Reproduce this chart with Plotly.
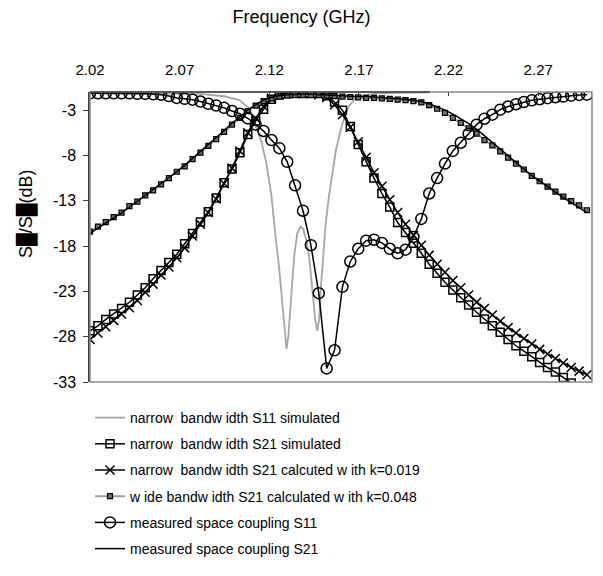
import plotly.graph_objects as go

# ---------------- data ----------------
freq_ghz = [2.0200, 2.0244, 2.0288, 2.0332, 2.0376, 2.0420, 2.0464, 2.0508, 2.0552, 2.0596,
            2.0640, 2.0684, 2.0728, 2.0772, 2.0816, 2.0860, 2.0904, 2.0948, 2.0992, 2.1036,
            2.1080, 2.1124, 2.1168, 2.1212, 2.1256, 2.1300, 2.1344, 2.1388, 2.1432, 2.1476,
            2.1520, 2.1564, 2.1608, 2.1652, 2.1696, 2.1740, 2.1784, 2.1828, 2.1872, 2.1916,
            2.1960, 2.2004, 2.2048, 2.2092, 2.2136, 2.2180, 2.2224, 2.2268, 2.2312, 2.2356,
            2.2400, 2.2444, 2.2488, 2.2532, 2.2576, 2.2620, 2.2664, 2.2708, 2.2752, 2.2796,
            2.2840, 2.2884, 2.2928, 2.2972]

narrow_s21_sim = [-27.35, -26.8, -26.1, -25.5, -24.9, -24.2, -23.4, -22.6, -21.6, -20.7,
                  -19.8, -18.9, -17.75, -16.6, -15.35, -14.2, -12.7, -11.0, -9.5, -7.7,
                  -5.7, -4.2, -2.9, -1.8, -1.3, -1.05, -1.1, -1.15, -1.1, -1.1,
                  -1.4, -2.1, -3.0, -4.8, -6.8, -8.7, -10.5, -12.2, -13.7, -15.4,
                  -16.5, -17.7, -18.8, -20.0, -21.0, -22.0, -22.85, -23.7, -24.5, -25.3,
                  -26.05, -26.8, -27.5, -28.3, -29.0, -29.6, -30.2, -30.85, -31.4, -31.9,
                  -32.5, -33.1, -33.7, -34.3]

narrow_s21_calc = [-28.3, -27.6, -26.9, -26.2, -25.5, -24.8, -24.0, -23.1, -22.2, -21.2,
                   -20.3, -19.3, -18.2, -16.9, -15.6, -14.3, -12.8, -11.1, -9.4, -7.5,
                   -5.5, -3.9, -2.6, -1.7, -1.3, -1.2, -1.2, -1.2, -1.2, -1.3,
                   -1.6, -2.4, -3.5, -4.9, -6.5, -8.2, -9.9, -11.4, -12.9, -14.3,
                   -15.6, -16.8, -17.9, -19.0, -20.0, -20.9, -21.8, -22.6, -23.4, -24.2,
                   -24.9, -25.6, -26.3, -27.0, -27.6, -28.2, -28.8, -29.4, -29.9, -30.4,
                   -30.9, -31.4, -31.8, -32.2]

wide_s21_calc = [-16.4, -15.85, -15.35, -14.8, -14.3, -13.6, -13.1, -12.4, -11.85, -11.2,
                 -10.5, -9.8, -9.2, -8.4, -7.7, -6.95, -6.2, -5.4, -4.6, -3.85,
                 -3.1, -2.5, -2.0, -1.7, -1.5, -1.4, -1.35, -1.35, -1.35, -1.35,
                 -1.4, -1.45, -1.5, -1.55, -1.6, -1.65, -1.65, -1.7, -1.75, -1.85,
                 -1.9, -2.0, -2.15, -2.45, -2.85, -3.3, -3.85, -4.4, -5.0, -5.6,
                 -6.3, -6.9, -7.55, -8.25, -8.9, -9.55, -10.25, -10.85, -11.45, -12.0,
                 -12.55, -13.05, -13.5, -14.05]

measured_s11 = [-1.15, -1.15, -1.15, -1.15, -1.15, -1.15, -1.2, -1.2, -1.25, -1.3,
                -1.45, -1.65, -1.75, -1.85, -2.05, -2.3, -2.5, -2.75, -3.1, -3.4,
                -3.9, -4.6, -5.3, -6.3, -7.2, -8.7, -11.3, -14.1, -17.9, -23.2,
                -31.5, -29.5, -22.5, -19.7, -18.3, -17.4, -17.3, -17.65, -18.3, -18.8,
                -18.4, -17.0, -15.0, -12.2, -10.5, -8.9, -7.5, -6.6, -5.6, -4.6,
                -3.95, -3.5, -2.95, -2.6, -2.35, -2.1, -1.92, -1.8, -1.68, -1.58,
                -1.5, -1.4, -1.32, -1.29]

measured_s21 = [-16.6, -16.0, -15.45, -14.9, -14.35, -13.7, -13.1, -12.45, -11.85, -11.2,
                -10.5, -9.8, -9.1, -8.35, -7.6, -6.85, -6.05, -5.25, -4.45, -3.7,
                -3.0, -2.4, -1.9, -1.6, -1.4, -1.3, -1.25, -1.25, -1.25, -1.3,
                -1.35, -1.4, -1.45, -1.5, -1.5, -1.5, -1.55, -1.6, -1.65, -1.7,
                -1.8, -1.9, -2.05, -2.3, -2.65, -3.0, -3.45, -3.95, -4.5, -5.1,
                -5.85, -6.6, -7.35, -8.1, -8.8, -9.5, -10.2, -10.85, -11.45, -12.05,
                -12.65, -13.2, -13.75, -14.3]

s11_sim_freq = [2.0200, 2.0589, 2.0811, 2.0950, 2.1033, 2.1089, 2.1126, 2.1156, 2.1183, 2.1211,
                2.1237, 2.1256, 2.1274, 2.1289, 2.1296, 2.1306, 2.1321, 2.1339, 2.1356, 2.1375,
                2.1389, 2.1406, 2.1422, 2.1439, 2.1456, 2.1468, 2.1478, 2.1487, 2.1500, 2.1515,
                2.1533, 2.1552, 2.1572, 2.1598, 2.1622, 2.1644, 2.1682, 2.1728, 2.1811, 2.1922,
                2.2090]
s11_sim_db = [-1.09, -1.14, -1.2, -1.47, -1.9, -2.8, -4.84, -6.5, -8.8, -12.3,
              -17.3, -20.6, -24.6, -28.3, -29.35, -28.0, -23.9, -19.1, -16.6, -15.85,
              -16.1, -17.3, -19.1, -22.8, -26.1, -27.35, -26.1, -22.8, -18.9, -15.45,
              -12.45, -9.96, -7.4, -5.2, -3.56, -2.57, -1.7, -1.36, -1.14, -1.09,
              -1.03]

series_names = [
    "narrow  bandw idth S11 simulated",
    "narrow  bandw idth S21 simulated",
    "narrow  bandw idth S21 calcuted w ith k=0.019",
    "w ide bandw idth S21 calculated w ith k=0.048",
    "measured space coupling S11",
    "measured space coupling S21",
]

x_tick_vals = [2.02, 2.07, 2.12, 2.17, 2.22, 2.27]
x_tick_text = ["2.02", "2.07", "2.12", "2.17", "2.22", "2.27"]
y_tick_vals = [-33, -28, -23, -18, -13, -8, -3]
y_tick_text = ["-33", "-28", "-23", "-18", "-13", "-8", "-3"]

x_title = "Frequency (GHz)"
y_title = "S\u2588/S\u2588(dB)"

FONT = "Liberation Sans, Arial, sans-serif"

# ---------------- figure ----------------
fig = go.Figure()

fig.add_trace(go.Scatter(
    x=s11_sim_freq, y=s11_sim_db, name=series_names[0], mode="lines",
    line=dict(color="#a6a6a6", width=1.8), legendgroup="g0"))

fig.add_trace(go.Scatter(
    x=freq_ghz, y=narrow_s21_sim, name=series_names[1], mode="lines+markers",
    line=dict(color="black", width=1.5),
    marker=dict(symbol="square-open", size=8, color="black", line=dict(width=1.5)),
    legendgroup="g1"))

fig.add_trace(go.Scatter(
    x=freq_ghz, y=narrow_s21_calc, name=series_names[2], mode="lines+markers",
    line=dict(color="black", width=1.5),
    marker=dict(symbol="x-thin-open", size=9, color="black", line=dict(width=1.5, color="black")),
    legendgroup="g2"))

fig.add_trace(go.Scatter(
    x=freq_ghz, y=wide_s21_calc, name=series_names[3], mode="lines+markers",
    line=dict(color="#a0a0a0", width=2),
    marker=dict(symbol="square", size=5, color="#707070", line=dict(width=1.2, color="black")),
    legendgroup="g3"))

fig.add_trace(go.Scatter(
    x=freq_ghz, y=measured_s11, name=series_names[4], mode="lines+markers",
    line=dict(color="black", width=1.5),
    marker=dict(symbol="circle-open", size=11, color="black", line=dict(width=1.5)),
    legendgroup="g4"))

fig.add_trace(go.Scatter(
    x=freq_ghz, y=measured_s21, name=series_names[5], mode="lines",
    line=dict(color="black", width=1.5), legendgroup="g5"))

fig.update_layout(
    width=603, height=576,
    margin=dict(l=90, r=11, t=92, b=194, autoexpand=False),
    paper_bgcolor="white", plot_bgcolor="white",
    font=dict(family=FONT, size=14, color="black"),
    showlegend=True,
    title=dict(text=x_title, xref="container", yref="container", x=0.5, y=1 - 17 / 576,
               xanchor="center", yanchor="middle", font=dict(family=FONT, size=18)),
    legend=dict(x=0.0, y=-0.069, xanchor="left", yanchor="top",
                font=dict(family=FONT, size=14, color="black"),
                tracegroupgap=5, itemwidth=30, bgcolor="rgba(0,0,0,0)"),
    xaxis=dict(
        side="top", range=[2.02, 2.30], tickmode="array", tickvals=x_tick_vals,
        ticktext=x_tick_text, automargin=False,
        ticks="inside", ticklen=4, tickcolor="#404040", showgrid=False, zeroline=False,
        showline=False, tickfont=dict(family=FONT, size=15), ticklabelstandoff=13,
    ),
    yaxis=dict(
        range=[-33, -1], tickmode="array", tickvals=y_tick_vals, ticktext=y_tick_text,
        automargin=False,
        ticks="outside", ticklen=5, tickcolor="#404040", showgrid=False, zeroline=False,
        showline=True, linecolor="#404040", linewidth=1.5,
        tickfont=dict(family=FONT, size=16), ticklabelstandoff=4,
    ),
    annotations=[
        dict(text=y_title, xref="paper", yref="paper", x=(26 - 90) / 502,
             y=(382 - 214) / 290, xanchor="center", yanchor="middle",
             textangle=-90, showarrow=False, font=dict(family=FONT, size=18)),
    ],
    shapes=[
        dict(type="rect", xref="paper", yref="paper", x0=0, x1=1, y0=0, y1=1,
             line=dict(color="#8c8c8c", width=1.5), layer="above"),
        dict(type="line", xref="paper", yref="paper", x0=0, x1=0.677, y0=1, y1=1,
             line=dict(color="#404040", width=1.5), layer="above"),
    ],
)

fig.write_html("out.html", config={"displayModeBar": False},
               post_script="document.body.style.margin='0';")
